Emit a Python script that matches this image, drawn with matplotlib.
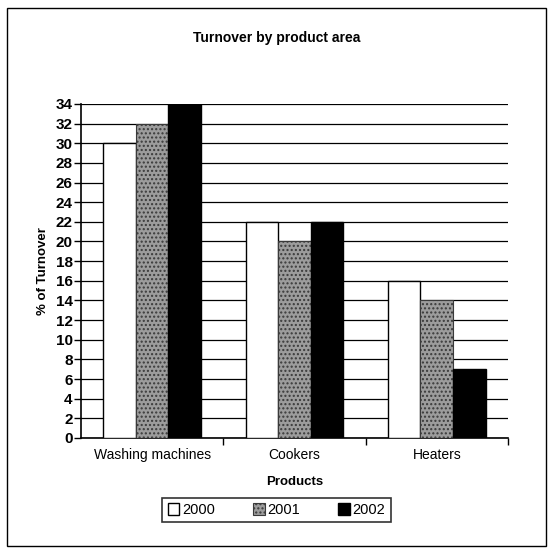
import matplotlib.pyplot as plt
import matplotlib.patches as mpatches
import numpy as np

plt.rcParams['font.family'] = ['Liberation Sans', 'DejaVu Sans']

# data
products = ['Washing machines', 'Cookers', 'Heaters']
years = ['2000', '2001', '2002']
v2000 = [30, 22, 16]
v2001 = [32, 20, 14]
v2002 = [34, 22, 7]

fig = plt.figure(figsize=(5.53, 5.54), dpi=100)
ax = fig.add_axes([0.1465, 0.2094, 0.772, 0.603])

x = np.arange(len(products))
w = 0.229
b1 = ax.bar(x - w, v2000, w, color='white', edgecolor='black', lw=1, label=years[0], zorder=3)
b2 = ax.bar(x, v2001, w, color='#9c9c9c', edgecolor='#3a3a3a', hatch='....', lw=0.8, label=years[1], zorder=3)
b3 = ax.bar(x + w, v2002, w, color='black', edgecolor='black', lw=1, label=years[2], zorder=3)

ax.set_xlim(-0.5, 2.5)
ax.set_ylim(0, 34)
ax.set_yticks(range(0, 35, 2))
ax.yaxis.grid(True, color='black', lw=0.9, zorder=0)
ax.set_axisbelow(True)

ax.set_xticks(x)
ax.set_xticklabels(products, fontsize=10)
ax.set_xticks([0.5, 1.5, 2.5], minor=True)
ax.tick_params(axis='x', which='major', length=0, pad=7)
ax.tick_params(axis='x', which='minor', length=5, width=1, direction='out')
ax.tick_params(axis='y', length=5, width=1, direction='out', pad=1, labelsize=11)
for t in ax.get_yticklabels():
    t.set_fontweight('bold')

for s in ['top', 'right']:
    ax.spines[s].set_visible(False)
for s in ['left', 'bottom']:
    ax.spines[s].set_linewidth(1.2)

ax.set_xlabel('Products', fontsize=9.5, fontweight='bold', labelpad=10)
ax.set_ylabel('% of Turnover', fontsize=9.5, fontweight='bold', labelpad=5)
fig.text(0.5, 1 - 38 / 554, 'Turnover by product area', ha='center', va='center',
         fontsize=10, fontweight='bold')

leg = fig.legend(handles=[b1, b2, b3], loc='center', bbox_to_anchor=(0.5, 1 - 510 / 554),
                 ncol=3, fancybox=False, edgecolor='black', fontsize=10.5,
                 handlelength=0.8, handleheight=0.8, handletextpad=0.2,
                 columnspacing=2.6, borderpad=0.35)
leg.get_frame().set_linewidth(1.2)

fig.patches.append(mpatches.Rectangle((7 / 553, 8 / 554), 539 / 553, 538 / 554,
                                      transform=fig.transFigure, fill=False,
                                      edgecolor='black', lw=1))

fig.savefig('out.png', dpi=100)
